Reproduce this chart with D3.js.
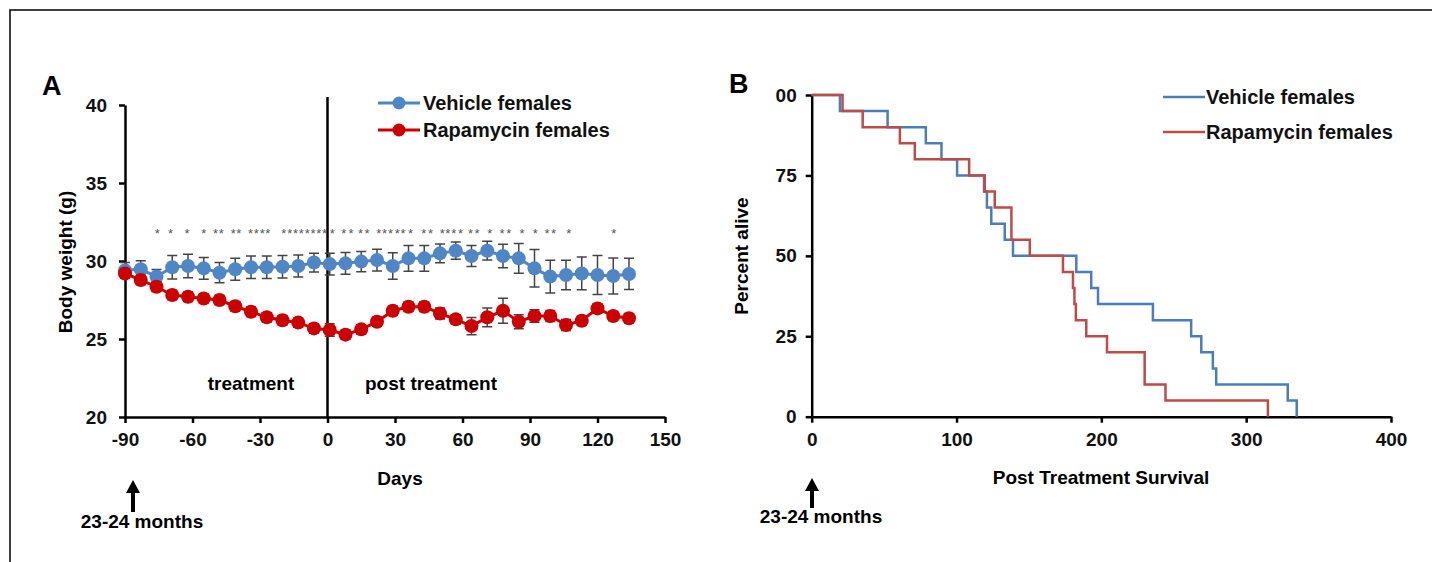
<!DOCTYPE html>
<html>
<head>
<meta charset="utf-8">
<script src="https://cdn.jsdelivr.net/npm/d3@7"></script>
<style>
  body { margin: 0; background: #fff; }
  svg text { font-family: "Liberation Sans", Arial, sans-serif; }
</style>
</head>
<body>
<div id="chart"></div>
<script>
// Panel A: body weight, every 7 days
const days = [-90, -83, -76, -69, -62, -55, -48, -41, -34, -27, -20, -13, -6, 1, 8, 15, 22,
  29, 36, 43, 50, 57, 64, 71, 78, 85, 92, 99, 106, 113, 120, 127, 134];
const vehicleWeight = [29.4, 29.47, 29.0, 29.6, 29.68, 29.53, 29.25, 29.47, 29.6, 29.6, 29.63, 29.68,
  29.9, 29.8, 29.85, 29.96, 30.06, 29.68, 30.17, 30.17, 30.49, 30.66, 30.32, 30.66, 30.32, 30.17,
  29.53, 29.0, 29.1, 29.2, 29.1, 29.04, 29.17];
const vehicleErr = [0.5, 0.55, 0.45, 0.75, 0.75, 0.7, 0.65, 0.7, 0.72, 0.72, 0.72, 0.7, 0.6, 0.7,
  0.7, 0.65, 0.7, 0.85, 0.82, 0.82, 0.6, 0.55, 0.67, 0.6, 0.75, 0.95, 1.2, 1.05, 0.95, 1.05, 1.25,
  1.15, 1.0];
const rapaWeight = [29.2, 28.78, 28.35, 27.82, 27.71, 27.6, 27.5, 27.1, 26.75, 26.39, 26.2, 26.05,
  25.68, 25.58, 25.28, 25.62, 26.11, 26.81, 27.07, 27.07, 26.64, 26.26, 25.83, 26.39, 26.81, 26.11,
  26.47, 26.47, 25.9, 26.17, 26.96, 26.47, 26.33];
const rapaErr = [0.3, 0.3, 0.3, 0.3, 0.3, 0.3, 0.3, 0.3, 0.3, 0.3, 0.3, 0.3, 0.3, 0.4, 0.3, 0.3,
  0.3, 0.3, 0.3, 0.3, 0.35, 0.3, 0.55, 0.6, 0.8, 0.45, 0.4, 0.35, 0.35, 0.3, 0.3, 0.3, 0.3];
// asterisk positions (days)
const starDays = [-75.7, -69.8, -62.4, -55.0, -49.8, -47.2, -41.9, -39.4, -34.2, -31.6, -29.0, -26.5,
  -19.4, -16.8, -14.2, -11.7, -9.0, -6.4, -3.9, -1.3, 2.1, 7.2, 10.5, 14.7, 17.6, 22.8, 25.3, 28.0,
  31.0, 33.6, 36.9, 42.8, 45.8, 51.0, 53.5, 56.1, 59.1, 63.6, 66.5, 72.1, 77.6, 80.6, 86.5, 92.4,
  97.6, 100.5, 107.2, 127.2];
const xTicksA = [-90, -60, -30, 0, 30, 60, 90, 120, 150];
const yTicksA = [20, 25, 30, 35, 40];

// Panel B: survival (Kaplan-Meier steps)
const vehicleTime = [0, 19.5, 52.4, 78.8, 89.6, 100.4, 119, 121, 124, 133.3, 139, 182.7, 193, 197.7,
  235.6, 262, 269, 277, 279.3, 328.7, 334.9];
const vehicleSurv = [100, 95, 90, 85, 80, 75, 70, 65, 60, 55, 50, 45, 40, 35, 30, 25, 20, 15, 10, 5, 0];
const rapaTime = [0, 21.3, 35.2, 60.9, 71.2, 108.7, 119.5, 126.4, 137.9, 150.6, 173.5, 180.4, 181.4,
  182.4, 189.6, 203.9, 229.9, 244.3, 315];
const rapaSurv = [100, 95, 90, 85, 80, 75, 70, 65, 55, 50, 45, 40, 35, 30, 25, 20, 10, 5, 0];
const xTicksB = [0, 100, 200, 300, 400];
const yTicksB = [0, 25, 50, 75, 100];
const yTickLabelsB = ["0", "25", "50", "75", "00"];

const blueA = "#4f86c6", redA = "#cc0000";
const blueB = "#4a7ebb", redB = "#be4b48";

const width = 1432, height = 562;
const svg = d3.select("#chart").append("svg")
  .attr("width", width).attr("height", height);

// frame (top and left edges)
svg.append("path").attr("d", "M10,562V10H1432")
  .attr("fill", "none").attr("stroke", "#000").attr("stroke-width", 1.5);

function styleAxis(g) {
  g.select(".domain").attr("stroke-width", 2.5);
  g.selectAll(".tick line").attr("stroke-width", 2.5);
  g.selectAll(".tick text").attr("font-size", "19px").attr("font-weight", "bold")
    .attr("fill", "#111");
}

function arrow(x, yTip, yTail) {
  svg.append("line").attr("x1", x).attr("x2", x).attr("y1", yTip + 10).attr("y2", yTail)
    .attr("stroke", "#000").attr("stroke-width", 4);
  svg.append("path").attr("d", `M${x},${yTip}L${x - 7},${yTip + 13}L${x + 7},${yTip + 13}Z`)
    .attr("fill", "#000");
}

// ---------- Panel A ----------
const xA = d3.scaleLinear().domain([-90, 150]).range([125, 665]);
const yA = d3.scaleLinear().domain([20, 40]).range([417, 105]);

svg.append("g").attr("transform", "translate(0,417)")
  .call(d3.axisBottom(xA).tickValues(xTicksA).tickSize(6).tickSizeOuter(0).tickPadding(10)
    .tickFormat(d => String(d)))
  .call(styleAxis);
svg.append("g").attr("transform", "translate(125,0)")
  .call(d3.axisLeft(yA).tickValues(yTicksA).tickSize(6).tickSizeOuter(0).tickPadding(12))
  .call(styleAxis);

// treatment boundary
svg.append("line").attr("x1", xA(0)).attr("x2", xA(0)).attr("y1", 97).attr("y2", 417)
  .attr("stroke", "#000").attr("stroke-width", 2.5);

const rowsV = days.map((d, i) => ({ d, v: vehicleWeight[i], e: vehicleErr[i] }));
const rowsR = days.map((d, i) => ({ d, v: rapaWeight[i], e: rapaErr[i] }));

function drawSeries(rows, color) {
  const g = svg.append("g");
  g.selectAll("path.err").data(rows).enter().append("path")
    .attr("d", r => {
      const x = xA(r.d), y1 = yA(r.v + r.e), y2 = yA(r.v - r.e);
      return `M${x},${y1}V${y2}M${x - 5},${y1}H${x + 5}M${x - 5},${y2}H${x + 5}`;
    })
    .attr("fill", "none").attr("stroke", "#444").attr("stroke-width", 1.5);
  g.append("path").datum(rows)
    .attr("d", d3.line().x(r => xA(r.d)).y(r => yA(r.v)))
    .attr("fill", "none").attr("stroke", color).attr("stroke-width", 3);
  g.selectAll("circle").data(rows).enter().append("circle")
    .attr("cx", r => xA(r.d)).attr("cy", r => yA(r.v)).attr("r", 7)
    .attr("fill", color);
}
drawSeries(rowsV, blueA);
drawSeries(rowsR, redA);

svg.append("g").selectAll("text").data(starDays).enter().append("text")
  .attr("x", d => xA(d)).attr("y", yA(32) + 8)
  .attr("text-anchor", "middle").attr("font-size", "13px").attr("fill", "#555")
  .text("*");

svg.append("text").attr("x", 42).attr("y", 95).attr("font-size", "27px")
  .attr("font-weight", "bold").text("A");

svg.append("text").attr("transform", "translate(72,262) rotate(-90)")
  .attr("text-anchor", "middle").attr("font-size", "19px").attr("font-weight", "bold")
  .text("Body weight (g)");
svg.append("text").attr("x", 400).attr("y", 485).attr("text-anchor", "middle")
  .attr("font-size", "19px").attr("font-weight", "bold").text("Days");
svg.append("text").attr("x", 251).attr("y", 390).attr("text-anchor", "middle")
  .attr("font-size", "19px").attr("font-weight", "bold").text("treatment");
svg.append("text").attr("x", 431).attr("y", 390).attr("text-anchor", "middle")
  .attr("font-size", "19px").attr("font-weight", "bold").text("post treatment");

arrow(133, 480, 512);
svg.append("text").attr("x", 142).attr("y", 528).attr("text-anchor", "middle")
  .attr("font-size", "19px").attr("font-weight", "bold").text("23-24 months");

// legend A
[["Vehicle females", blueA, 103], ["Rapamycin females", redA, 130]].forEach(([name, c, y]) => {
  svg.append("line").attr("x1", 378).attr("x2", 420).attr("y1", y).attr("y2", y)
    .attr("stroke", c).attr("stroke-width", 3);
  svg.append("circle").attr("cx", 399).attr("cy", y).attr("r", 6.5).attr("fill", c);
  svg.append("text").attr("x", 423).attr("y", y + 7).attr("font-size", "20px")
    .attr("font-weight", "bold").attr("fill", "#111").text(name);
});

// ---------- Panel B ----------
const xB = d3.scaleLinear().domain([0, 400]).range([811.7, 1391]);
const yB = d3.scaleLinear().domain([0, 100]).range([416.7, 95]);

svg.append("g").attr("transform", "translate(0,416.7)")
  .call(d3.axisBottom(xB).tickValues(xTicksB).tickSize(6).tickSizeOuter(0).tickPadding(10))
  .call(styleAxis);
svg.append("g").attr("transform", "translate(811.7,0)")
  .call(d3.axisLeft(yB).tickValues(yTicksB).tickSize(6).tickSizeOuter(0).tickPadding(9)
    .tickFormat((d, i) => yTickLabelsB[i]))
  .call(styleAxis);

const km = d3.line().curve(d3.curveStepAfter).x(p => xB(p[0])).y(p => yB(p[1]));
svg.append("path").datum(vehicleTime.map((t, i) => [t, vehicleSurv[i]]))
  .attr("d", km).attr("fill", "none").attr("stroke", blueB).attr("stroke-width", 2.5);
svg.append("path").datum(rapaTime.map((t, i) => [t, rapaSurv[i]]))
  .attr("d", km).attr("fill", "none").attr("stroke", redB).attr("stroke-width", 2.5);

svg.append("text").attr("x", 729).attr("y", 93).attr("font-size", "27px")
  .attr("font-weight", "bold").text("B");

svg.append("text").attr("transform", "translate(748,256) rotate(-90)")
  .attr("text-anchor", "middle").attr("font-size", "19px").attr("font-weight", "bold")
  .text("Percent alive");
svg.append("text").attr("x", 1101).attr("y", 484).attr("text-anchor", "middle")
  .attr("font-size", "19px").attr("font-weight", "bold").text("Post Treatment Survival");

arrow(812, 478, 508);
svg.append("text").attr("x", 821).attr("y", 523).attr("text-anchor", "middle")
  .attr("font-size", "19px").attr("font-weight", "bold").text("23-24 months");

// legend B
[["Vehicle females", blueB, 97], ["Rapamycin females", redB, 132]].forEach(([name, c, y]) => {
  svg.append("line").attr("x1", 1163).attr("x2", 1205).attr("y1", y).attr("y2", y)
    .attr("stroke", c).attr("stroke-width", 2.5);
  svg.append("text").attr("x", 1206).attr("y", y + 7).attr("font-size", "20px")
    .attr("font-weight", "bold").attr("fill", "#111").text(name);
});
</script>
</body>
</html>
